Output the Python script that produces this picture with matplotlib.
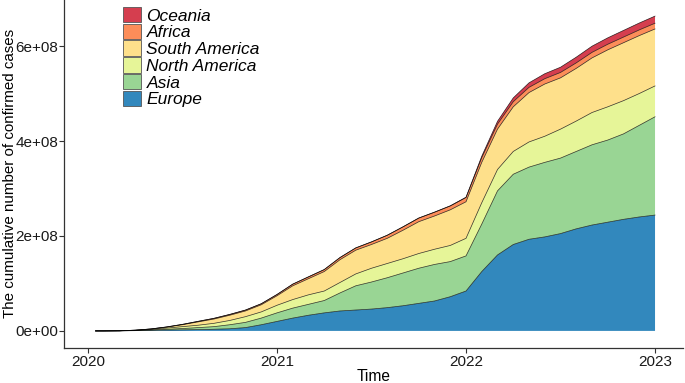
import numpy as np
from matplotlib import pyplot as plt
from matplotlib.patches import Patch
from matplotlib.ticker import FuncFormatter

# time axis: 22 Jan 2020, then start of each month up to Jan 2023
time = [2020.04] + [2020 + m / 12 for m in range(1, 37)]

# layer thickness per continent, in 1e8 cases
europe = [0, 0.0, 0.001, 0.005, 0.012, 0.018, 0.022, 0.027, 0.035, 0.045, 0.07, 0.13, 0.20,
          0.27, 0.33, 0.38, 0.42, 0.44, 0.46, 0.49, 0.53, 0.58, 0.63, 0.72, 0.84,
          1.25, 1.60, 1.82, 1.93, 1.98, 2.05, 2.15, 2.23, 2.29, 2.35, 2.40, 2.44]
asia_top = [0, 0, 0.001, 0.008, 0.02, 0.035, 0.05, 0.07, 0.09, 0.13, 0.18, 0.27, 0.38,
            0.48, 0.56, 0.64, 0.80, 0.95, 1.03, 1.12, 1.22, 1.32, 1.40, 1.46, 1.58,
            2.25, 2.95, 3.30, 3.45, 3.55, 3.64, 3.78, 3.92, 4.02, 4.15, 4.33, 4.51]
north_america_top = [0, 0, 0.002, 0.012, 0.03, 0.06, 0.09, 0.12, 0.16, 0.22, 0.30, 0.40, 0.54,
                     0.66, 0.76, 0.84, 1.02, 1.20, 1.32, 1.42, 1.52, 1.63, 1.72, 1.80, 1.95,
                     2.70, 3.40, 3.78, 3.98, 4.10, 4.25, 4.42, 4.60, 4.72, 4.85, 5.00, 5.16]
south_america_top = [0, 0, 0.003, 0.015, 0.04, 0.08, 0.13, 0.19, 0.25, 0.33, 0.42, 0.55, 0.74,
                     0.95, 1.10, 1.25, 1.50, 1.70, 1.82, 1.95, 2.12, 2.30, 2.42, 2.55, 2.72,
                     3.55, 4.25, 4.72, 5.02, 5.20, 5.33, 5.53, 5.75, 5.92, 6.07, 6.22, 6.36]
africa = [0, 0, 0, 0.001, 0.002, 0.004, 0.008, 0.012, 0.015, 0.017, 0.019, 0.022, 0.027,
          0.035, 0.039, 0.042, 0.045, 0.048, 0.055, 0.065, 0.072, 0.077, 0.080, 0.082, 0.09,
          0.10, 0.105, 0.108, 0.11, 0.112, 0.114, 0.116, 0.117, 0.118, 0.119, 0.12, 0.121]
oceania = [0, 0, 0, 0.0003, 0.0003, 0.0003, 0.0003, 0.0003, 0.0003, 0.0003, 0.0003, 0.0003, 0.0003,
           0.0005, 0.0005, 0.0005, 0.0005, 0.0005, 0.0005, 0.0005, 0.0005, 0.0005, 0.002, 0.003, 0.006,
           0.03, 0.06, 0.08, 0.095, 0.105, 0.11, 0.12, 0.13, 0.135, 0.14, 0.145, 0.15]

names = ['Europe', 'Asia', 'North America', 'South America', 'Africa', 'Oceania']
colors = ['#3288BD', '#99D594', '#E6F598', '#FEE08B', '#FC8D59', '#D53E4F']


def main():
    plt.rcParams['font.family'] = ['Liberation Sans', 'DejaVu Sans']
    t = np.array(time)
    asia = np.array(asia_top) - np.array(europe)
    north_america = np.array(north_america_top) - np.array(asia_top)
    south_america = np.array(south_america_top) - np.array(north_america_top)
    layers = [europe, asia, north_america, south_america, africa, oceania]
    layers = [np.array(item) * 1e8 for item in layers]

    f = plt.figure(figsize=(6.85, 3.83), dpi=100)
    ax = f.add_axes([64 / 685, 35 / 383, 619 / 685, 348 / 383])

    bottom = np.zeros_like(t)
    for values, color in zip(layers, colors):
        top = bottom + values
        ax.fill_between(t, bottom, top, facecolor=color, edgecolor='none', lw=0)
        bottom = top
    bottom = np.zeros_like(t)
    for values in layers:
        bottom = bottom + values
        ax.plot(t, bottom, color='black', lw=0.5, alpha=0.8)

    ax.set_xlim(2019.873, 2023.148)
    ax.set_ylim(-0.36e8, 6.97e8)
    ax.set_xticks([2020, 2021, 2022, 2023])
    ax.set_xticklabels(['2020', '2021', '2022', '2023'])
    ax.set_yticks([0, 2e8, 4e8, 6e8])
    ax.yaxis.set_major_formatter(FuncFormatter(lambda v, p: '%.0e' % v))
    ax.tick_params(labelsize=11, colors='#333333', length=3.5, width=0.8, pad=1.5,
                   labelcolor='#1a1a1a')
    ax.tick_params(axis='y', pad=0.8)
    for side in ['top', 'right']:
        ax.spines[side].set_visible(False)
    for side in ['left', 'bottom']:
        ax.spines[side].set_color('#333333')
        ax.spines[side].set_linewidth(0.9)
    ax.set_xlabel('Time', fontsize=11.2, labelpad=0)
    ax.set_ylabel('The cumulative number of confirmed cases', fontsize=10.9)
    ax.yaxis.set_label_coords(-0.076, 0.503)

    handles = [Patch(facecolor=c, edgecolor='#555555', lw=0.6, label=n)
               for n, c in zip(names, colors)][::-1]
    ax.legend(handles=handles, loc='upper left', bbox_to_anchor=(116 / 685, 1.0),
              bbox_transform=f.transFigure, frameon=False,
              prop={'style': 'italic', 'size': 12.5}, handlelength=1.05, handleheight=1.0,
              labelspacing=0.0, handletextpad=0.3, borderaxespad=0.2, borderpad=0.2)

    plt.savefig('out.png', dpi=100)
    plt.close()


if __name__ == '__main__':
    main()
